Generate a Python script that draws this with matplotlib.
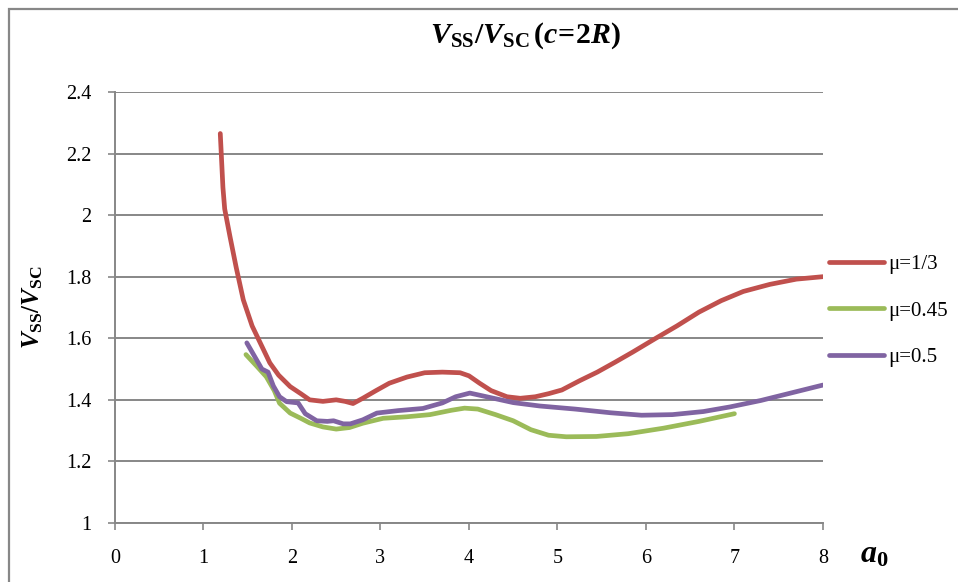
import matplotlib.pyplot as plt
from matplotlib.patches import Rectangle

# ------- DATA -------
x_mu033 = [1.19, 1.22, 1.24, 1.30, 1.37, 1.45, 1.55, 1.65, 1.75, 1.85, 1.98, 2.10, 2.20, 2.35,
           2.50, 2.60, 2.69, 2.80, 2.95, 3.10, 3.30, 3.50, 3.70, 3.90, 4.00, 4.12, 4.25, 4.43,
           4.58, 4.75, 4.90, 5.05, 5.25, 5.45, 5.65, 5.85, 6.10, 6.35, 6.60, 6.85, 7.10, 7.40,
           7.70, 8.00]
y_mu033 = [2.265, 2.09, 2.02, 1.93, 1.83, 1.725, 1.64, 1.58, 1.52, 1.48, 1.443, 1.42, 1.40, 1.395,
           1.40, 1.395, 1.388, 1.405, 1.43, 1.454, 1.474, 1.488, 1.49, 1.488, 1.478, 1.454, 1.43, 1.41,
           1.405, 1.41, 1.42, 1.432, 1.462, 1.49, 1.522, 1.555, 1.598, 1.64, 1.685, 1.722, 1.752, 1.775,
           1.792, 1.80]

x_mu045 = [1.48, 1.60, 1.71, 1.80, 1.86, 1.98, 2.10, 2.20, 2.35, 2.50, 2.65, 2.80, 3.03, 3.30,
           3.56, 3.80, 3.95, 4.10, 4.30, 4.50, 4.70, 4.90, 5.10, 5.44, 5.80, 6.20, 6.60, 7.00]
y_mu045 = [1.547, 1.51, 1.475, 1.43, 1.389, 1.357, 1.34, 1.325, 1.312, 1.305, 1.31, 1.324, 1.34, 1.345,
           1.352, 1.366, 1.373, 1.37, 1.352, 1.332, 1.303, 1.285, 1.28, 1.281, 1.29, 1.308, 1.33, 1.355]

x_mu05 = [1.49, 1.58, 1.66, 1.73, 1.79, 1.86, 1.94, 2.07, 2.15, 2.28, 2.40, 2.47, 2.58, 2.66,
          2.80, 2.96, 3.20, 3.48, 3.70, 3.85, 4.01, 4.20, 4.50, 4.80, 5.20, 5.60, 5.95, 6.30,
          6.65, 6.95, 7.30, 7.65, 8.00]
y_mu05 = [1.585, 1.54, 1.50, 1.49, 1.445, 1.41, 1.394, 1.39, 1.355, 1.332, 1.33, 1.332, 1.322, 1.322,
          1.335, 1.357, 1.365, 1.372, 1.39, 1.41, 1.422, 1.41, 1.391, 1.38, 1.37, 1.358, 1.35, 1.352,
          1.362, 1.377, 1.398, 1.423, 1.448]

x_ticks = [0, 1, 2, 3, 4, 5, 6, 7, 8]
y_ticks = [1, 1.2, 1.4, 1.6, 1.8, 2, 2.2, 2.4]
y_labels = ["1", "1.2", "1.4", "1.6", "1.8", "2", "2.2", "2.4"]

# ------- STYLE -------
plt.rcParams["font.family"] = "Liberation Serif"
plt.rcParams["mathtext.fontset"] = "custom"
plt.rcParams["mathtext.rm"] = "Liberation Serif"
plt.rcParams["mathtext.it"] = "Liberation Serif:italic"
plt.rcParams["mathtext.bf"] = "Liberation Serif:bold"
plt.rcParams["mathtext.bfit"] = "Liberation Serif:bold:italic"

grid_col = "#878787"

fig = plt.figure(figsize=(9.58, 5.82), dpi=100)
ax = fig.add_axes([0.120, 0.1014, 0.739, 0.7406])

ax.plot(x_mu033, y_mu033, color="#C0504D", lw=3.4, solid_capstyle="round", solid_joinstyle="round", label="μ=1/3")
ax.plot(x_mu045, y_mu045, color="#9BBB59", lw=3.4, solid_capstyle="round", solid_joinstyle="round", label="μ=0.45")
ax.plot(x_mu05, y_mu05, color="#8064A2", lw=3.4, solid_capstyle="round", solid_joinstyle="round", label="μ=0.5")

ax.set_xlim(0, 8)
ax.set_ylim(1, 2.4)
ax.set_xticks(x_ticks)
ax.set_yticks(y_ticks)
ax.set_yticklabels(y_labels)
ax.yaxis.grid(True, color=grid_col, lw=1.4)
ax.set_axisbelow(True)
for s in ["top", "right"]:
    ax.spines[s].set_visible(False)
for s in ["left", "bottom"]:
    ax.spines[s].set_color(grid_col)
    ax.spines[s].set_linewidth(1.4)
ax.tick_params(axis="both", colors=grid_col, labelcolor="black", labelsize=14.5, width=1.2, length=5)
ax.tick_params(axis="x", pad=14)
ax.tick_params(axis="y", pad=12)

# title (centered over the whole chart area, like Excel)
fig.text(0.5486, 0.926,
         r"$\mathbfit{V}_{\mathbf{SS}}\mathbf{/}\mathbfit{V}_{\mathbf{SC}}\,\mathbf{(}\mathbfit{c}\!\mathbf{=}\!\mathbf{2}\mathbfit{R}\mathbf{)}$",
         fontsize=21.5, ha="center", va="baseline")
ax.set_ylabel(r"$\mathbfit{V}_{\mathbf{SS}}\mathbf{/}\mathbfit{V}_{\mathbf{SC}}$", fontsize=18)
ax.yaxis.set_label_coords(-0.099, 0.5)
fig.text(0.898, 0.034, r"$\mathbfit{a}_{\mathbf{0}}$", fontsize=23, ha="left", va="baseline")

leg = ax.legend(loc="center left", bbox_to_anchor=(0.997, 0.492), frameon=False, fontsize=15,
                handlelength=2.65, handletextpad=0.2, labelspacing=1.3, borderaxespad=0)

# outer chart border (only left/top visible in the crop)
fig.patches.append(Rectangle((0.0089, -0.02), 1.1, 1.0045, transform=fig.transFigure,
                             fill=False, edgecolor=grid_col, lw=1.6))

fig.savefig("out.png", dpi=100)
